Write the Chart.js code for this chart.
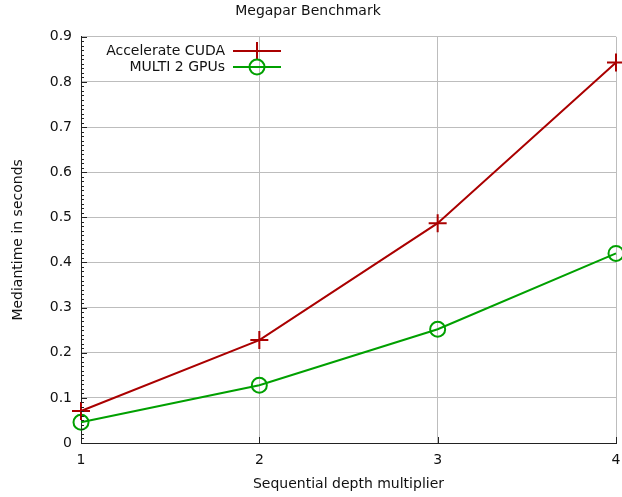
<!DOCTYPE html>
<html>
<head>
<meta charset="utf-8">
<script src="https://cdn.jsdelivr.net/npm/chart.js@4"></script>
<style>
    html, body { margin: 0; padding: 0; background: #fff; }
    #wrap { width: 622px; height: 497px; }
</style>
</head>
<body>
<div id="wrap"><canvas id="chart" width="622" height="497"></canvas></div>
<script>
    // values
    const depthMultiplier = [1, 2, 3, 4]
    const accelerateCuda = [0.071, 0.228, 0.487, 0.843]
    const multi2Gpus = [0.046, 0.128, 0.252, 0.420]
    const yTicks = [0, 0.1, 0.2, 0.3, 0.4, 0.5, 0.6, 0.7, 0.8, 0.9]

    const FONT = 'DejaVu Sans'
    const SIZE = 14
    const RED = '#aa0000'
    const GREEN = '#00a000'

    const toPoints = (ys) => depthMultiplier.map((x, i) => ({x, y: ys[i]}))

    // gnuplot style inward ticks (minor ones on y every 0.01) + x tick labels
    // (x labels drawn here so Chart.js doesn't shrink the plot for the overflowing "4")
    const innerTicks = {
        id: 'innerTicks',
        afterDatasetsDraw(chart) {
            const {ctx, chartArea, scales: {x, y}} = chart
            ctx.save()
            ctx.strokeStyle = '#222'
            ctx.lineWidth = 1
            ctx.beginPath()
            for (let i = 0; i <= 90; i++) {
                const py = Math.round(y.getPixelForValue(i / 100)) + 0.5
                const len = i % 10 === 0 ? 6 : 3
                ctx.moveTo(chartArea.left, py)
                ctx.lineTo(chartArea.left + len, py)
            }
            depthMultiplier.forEach(v => {
                const px = Math.round(x.getPixelForValue(v)) + 0.5
                ctx.moveTo(px, chartArea.bottom)
                ctx.lineTo(px, chartArea.bottom - 6)
            })
            ctx.stroke()

            ctx.fillStyle = '#111'
            ctx.font = `${SIZE}px "${FONT}"`
            ctx.textAlign = 'center'
            ctx.textBaseline = 'middle'
            depthMultiplier.forEach(v => {
                ctx.fillText(String(v), x.getPixelForValue(v), chartArea.bottom + 17)
            })
            ctx.restore()
        }
    }

    // legend inside the plot: text on the left, sample on the right
    const keyBox = {
        id: 'keyBox',
        afterDraw(chart) {
            const {ctx} = chart
            const textRight = 225, lineLeft = 233, lineRight = 281
            const rows = [51, 67]
            ctx.save()
            ctx.font = `${SIZE}px "${FONT}"`
            ctx.textAlign = 'right'
            ctx.textBaseline = 'middle'
            chart.data.datasets.forEach((ds, i) => {
                const yy = rows[i]
                ctx.fillStyle = '#111'
                ctx.fillText(ds.label, textRight, yy)
                ctx.strokeStyle = ds.borderColor
                ctx.lineWidth = 2
                ctx.beginPath()
                ctx.moveTo(lineLeft, yy)
                ctx.lineTo(lineRight, yy)
                ctx.stroke()
                const cx = (lineLeft + lineRight) / 2
                ctx.beginPath()
                if (ds.pointStyle === 'cross') {
                    ctx.moveTo(cx - ds.pointRadius, yy)
                    ctx.lineTo(cx + ds.pointRadius, yy)
                    ctx.moveTo(cx, yy - ds.pointRadius)
                    ctx.lineTo(cx, yy + ds.pointRadius)
                } else {
                    ctx.arc(cx, yy, ds.pointRadius, 0, Math.PI * 2)
                }
                ctx.stroke()
            })
            ctx.restore()
        }
    }

    const ctx = document.getElementById('chart').getContext('2d')
    new Chart(ctx, {
        type: 'line',
        data: {
            datasets: [
                {
                    label: 'Accelerate CUDA',
                    data: toPoints(accelerateCuda),
                    borderColor: RED,
                    backgroundColor: RED,
                    borderWidth: 2,
                    pointStyle: 'cross',
                    pointRadius: 9,
                    pointBorderWidth: 2,
                    clip: false
                },
                {
                    label: 'MULTI 2 GPUs',
                    data: toPoints(multi2Gpus),
                    borderColor: GREEN,
                    backgroundColor: 'transparent',
                    borderWidth: 2,
                    pointStyle: 'circle',
                    pointRadius: 7.5,
                    pointBorderWidth: 2,
                    clip: false
                }
            ]
        },
        options: {
            responsive: false,
            animation: false,
            // no auto padding: the big markers would otherwise shrink the plot area
            layout: {autoPadding: false, padding: {left: 0, right: 6, top: 0, bottom: 0}},
            plugins: {
                legend: {display: false},
                tooltip: {enabled: false},
                title: {
                    display: true,
                    text: 'Megapar Benchmark',
                    color: '#111',
                    font: {family: FONT, size: SIZE, weight: 'normal'},
                    padding: {top: 3, bottom: 17}
                }
            },
            scales: {
                x: {
                    type: 'linear',
                    min: 1,
                    max: 4,
                    afterBuildTicks: (scale) => {
                        scale.ticks = depthMultiplier.map(v => ({value: v}))
                    },
                    afterFit: (scale) => { scale.height = 54 },
                    grid: {color: '#bdbdbd', lineWidth: 1, drawTicks: false},
                    border: {color: '#222', width: 1},
                    ticks: {display: false},
                    title: {
                        display: true,
                        text: 'Sequential depth multiplier',
                        color: '#111',
                        font: {family: FONT, size: SIZE},
                        padding: {top: 0, bottom: 4}
                    }
                },
                y: {
                    min: 0,
                    max: 0.9,
                    afterBuildTicks: (scale) => {
                        scale.ticks = yTicks.map(v => ({value: v}))
                    },
                    afterFit: (scale) => { scale.width = 81 },
                    grid: {color: '#bdbdbd', lineWidth: 1, drawTicks: false},
                    border: {color: '#222', width: 1},
                    ticks: {
                        color: '#111',
                        padding: 9,
                        font: {family: FONT, size: SIZE},
                        callback: (v) => v === 0 ? '0' : v.toFixed(1)
                    },
                    title: {
                        display: true,
                        text: 'Mediantime in seconds',
                        color: '#111',
                        font: {family: FONT, size: SIZE},
                        padding: {top: 10, bottom: 0}
                    }
                }
            }
        },
        plugins: [innerTicks, keyBox]
    })
</script>
</body>
</html>
